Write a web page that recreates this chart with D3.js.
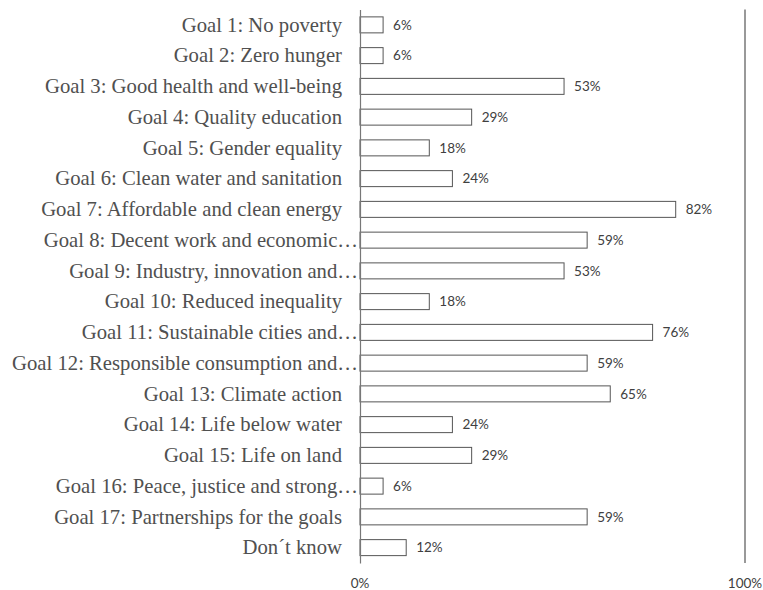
<!DOCTYPE html>
<html>
<head>
<meta charset="utf-8">
<script src="https://cdn.jsdelivr.net/npm/d3@7"></script>
<style>
  body { margin: 0; background: #fff; }
  .cat-label { font-family: "Liberation Serif", "Times New Roman", serif; font-size: 20.7px; fill: #505050; }
  .val-label { font-family: Lato, "Liberation Sans", sans-serif; font-size: 13.5px; fill: #404040; }
</style>
</head>
<body>
<div id="chart"></div>
<script>
// categories as they appear (long ones are cut off in the original)
const categories = [
  "Goal 1: No poverty",
  "Goal 2: Zero hunger",
  "Goal 3: Good health and well-being",
  "Goal 4: Quality education",
  "Goal 5: Gender equality",
  "Goal 6: Clean water and sanitation",
  "Goal 7: Affordable and clean energy",
  "Goal 8: Decent work and economic…",
  "Goal 9: Industry, innovation and…",
  "Goal 10: Reduced inequality",
  "Goal 11: Sustainable cities and…",
  "Goal 12: Responsible consumption and…",
  "Goal 13: Climate action",
  "Goal 14: Life below water",
  "Goal 15: Life on land",
  "Goal 16: Peace, justice and strong…",
  "Goal 17: Partnerships for the goals",
  "Don\u00b4t know"
];
const values = [6, 6, 53, 29, 18, 24, 82, 59, 53, 18, 76, 59, 65, 24, 29, 6, 59, 12];
const xTicks = [0, 100];

const svg = d3.select("#chart").append("svg").attr("width", 763).attr("height", 590);
const margin = {top: 9.5, right: 17, bottom: 27, left: 360};
const width = 763 - margin.left - margin.right;
const height = 590 - margin.top - margin.bottom;
const g = svg.append("g").attr("transform", `translate(${margin.left},${margin.top})`);

const x = d3.scaleLinear().domain([0, 100]).range([0, 385]);
const y = d3.scaleBand().domain(categories).range([0, height]).paddingInner(0.48).paddingOuter(0.24);

const data = categories.map((c, i) => ({cat: c, value: values[i]}));

// bars
g.selectAll("rect.bar")
  .data(data)
  .enter()
  .append("rect")
  .attr("class", "bar")
  .attr("x", x(0))
  .attr("y", d => y(d.cat))
  .attr("width", d => x(d.value))
  .attr("height", y.bandwidth())
  .attr("fill", "#fff")
  .attr("stroke", "#555")
  .attr("stroke-width", 1);

// value labels
g.selectAll("text.val-label")
  .data(data)
  .enter()
  .append("text")
  .attr("class", "val-label")
  .attr("x", d => x(d.value) + 10)
  .attr("y", d => y(d.cat) + y.bandwidth() / 2)
  .attr("dy", "0.35em")
  .text(d => d.value + "%");

// category axis on the left; cut-off labels run right up to the axis like in Excel
g.append("g")
  .call(d3.axisLeft(y).tickSize(0).tickPadding(18))
  .call(a => a.select(".domain").attr("stroke", "#777").attr("stroke-width", 1.2))
  .call(a => a.selectAll(".tick text")
    .attr("class", "cat-label")
    .attr("font-family", null)
    .attr("font-size", null)
    .attr("x", d => d.endsWith("…") ? -2 : -18));

// 100% reference line
g.append("line")
  .attr("x1", x(100)).attr("x2", x(100))
  .attr("y1", 0).attr("y2", height)
  .attr("stroke", "#777")
  .attr("stroke-width", 1.5);

// x tick labels
g.selectAll("text.x-tick")
  .data(xTicks)
  .enter()
  .append("text")
  .attr("class", "val-label")
  .attr("x", d => x(d))
  .attr("y", height + 25)
  .attr("text-anchor", "middle")
  .text(d => d + "%");
</script>
</body>
</html>
